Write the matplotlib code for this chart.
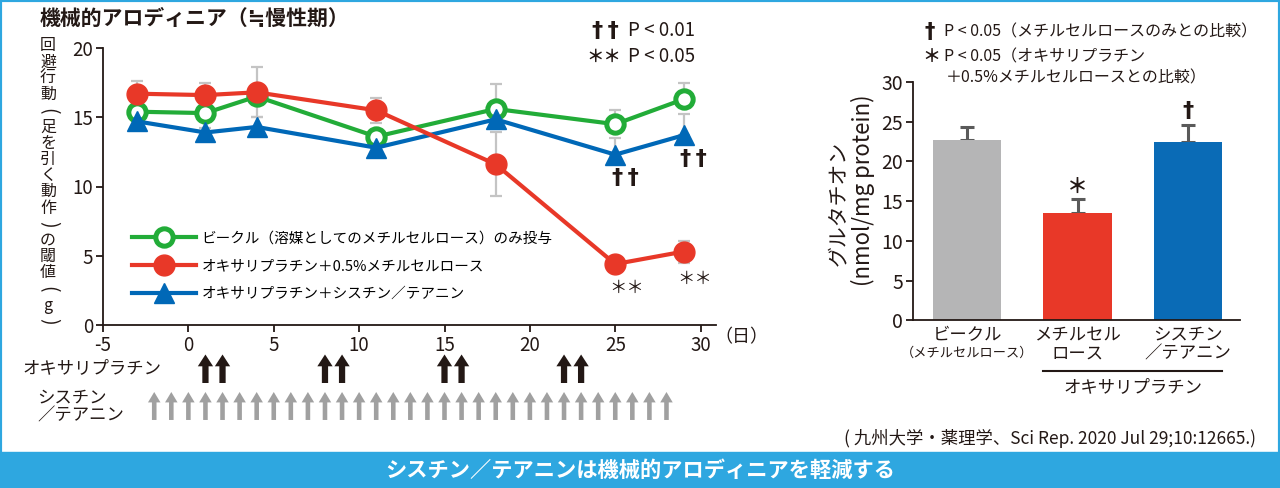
import matplotlib
matplotlib.use("Agg")
import matplotlib.pyplot as plt
from matplotlib.patches import Rectangle

plt.rcParams["font.family"] = ["Noto Sans CJK JP", "DejaVu Sans"]
plt.rcParams["axes.unicode_minus"] = False

# ---- left panel: withdrawal threshold (g) by day ----
DAYS = [-3, 1, 4, 11, 18, 25, 29]
VEHICLE = [15.4, 15.3, 16.5, 13.6, 15.6, 14.5, 16.3]
VEHICLE_ERR = [0.0, 0.0, 0.0, 0.0, 1.8, 1.0, 1.2]
OXA_MC = [16.7, 16.6, 16.8, 15.5, 11.6, 4.4, 5.3]
OXA_MC_ERR = [0.9, 0.9, 1.8, 0.9, 2.3, 0.3, 0.8]
OXA_CT = [14.7, 13.9, 14.3, 12.8, 14.85, 12.3, 13.7]
OXA_CT_ERR = [0.3, 0.3, 0.7, 0.3, 0.3, 1.2, 1.5]
NO_ERR = [0, 0, 0, 0, 0, 0, 0]

LABELS = ["ビークル（溶媒としてのメチルセルロース）のみ投与",
          "オキサリプラチン＋0.5%メチルセルロース",
          "オキサリプラチン＋シスチン／テアニン"]

# dosing schedule (days)
OXA_DAYS = [1, 2, 8, 9, 15, 16, 22, 23]
CT_DAYS = [-2, -1, 0, 1, 2, 3, 4, 5, 6, 7, 8, 9, 10, 11, 12, 13, 14, 15,
           16, 17, 18, 19, 20, 21, 22, 23, 24, 25, 26, 27, 28]

# ---- right panel: glutathione ----
GSH = [22.7, 13.5, 22.5]
GSH_ERR = [1.6, 1.8, 2.1]
GROUP_TOP = ["ビークル", "メチルセル", "シスチン"]
GROUP_BOTTOM = ["（メチルセルロース）", "ロース", "／テアニン"]

GREEN = "#22ac38"
RED = "#e83828"
BLUE = "#0068b7"
ERR_GRAY = "#c4c4c4"
INK = "#231815"
CYAN = "#2ea7e0"

W, H = 1280, 488
DAGGER = dict(family=["DejaVu Sans"], fontweight="bold", color=INK)
TWO_DAGGERS = "†\u2009†"


def fx(px):
    return px / W


def fy(py):
    return 1 - py / H


fig = plt.figure(figsize=(12.8, 4.88), dpi=100)

# ---------------- left line chart ----------------
ax = fig.add_axes([fx(103), fy(325), fx(716) - fx(103), fy(48) - fy(325)])
ax.set_xlim(-5, 30.9)
ax.set_ylim(0, 20)

ax.errorbar(DAYS, VEHICLE, yerr=[NO_ERR, VEHICLE_ERR], fmt="none", ecolor=ERR_GRAY,
            elinewidth=1.6, capsize=4, capthick=1.6, zorder=1)
ax.errorbar(DAYS, OXA_CT, yerr=[NO_ERR, OXA_CT_ERR], fmt="none", ecolor=ERR_GRAY,
            elinewidth=1.6, capsize=4, capthick=1.6, zorder=1)
ax.errorbar(DAYS, OXA_MC, yerr=OXA_MC_ERR, fmt="none", ecolor=ERR_GRAY,
            elinewidth=1.6, capsize=4, capthick=1.6, zorder=1)

l1, = ax.plot(DAYS, VEHICLE, color=GREEN, lw=3, marker="o", ms=12.5, mfc="white",
              mec=GREEN, mew=3.6, zorder=3)
l3, = ax.plot(DAYS, OXA_CT, color=BLUE, lw=3, marker="^", ms=15, mfc=BLUE, mec=BLUE,
              zorder=4)
l2, = ax.plot(DAYS, OXA_MC, color=RED, lw=3, marker="o", ms=15, mfc=RED, mec=RED,
              zorder=5)

ax.legend([l1, l2, l3], LABELS, loc="upper left", bbox_to_anchor=(0.03, 0.375),
          frameon=False, fontsize=10.5, handlelength=4.4, handletextpad=0.4,
          labelspacing=0.95, borderpad=0.2)

ax.set_xticks([-5, 0, 5, 10, 15, 20, 25, 30])
ax.set_yticks([0, 5, 10, 15, 20])
ax.tick_params(labelsize=13.5, length=5, width=1.3, color=INK, labelcolor=INK, pad=2)
for side in ("top", "right"):
    ax.spines[side].set_visible(False)
for side in ("left", "bottom"):
    ax.spines[side].set_color(INK)
    ax.spines[side].set_linewidth(1.3)

# significance marks under the day 25 / 29 points
for i, dy_mc in ((5, -17), (6, -20)):
    ax.annotate(TWO_DAGGERS, (DAYS[i], OXA_CT[i]), xytext=(7, -17),
                textcoords="offset points", ha="center", va="center", fontsize=16,
                **DAGGER)
    ax.annotate("＊＊", (DAYS[i], OXA_MC[i]), xytext=(8, dy_mc),
                textcoords="offset points", ha="center", va="center", fontsize=12.5,
                color=INK)

fig.text(fx(741), fy(337), "（日）", ha="center", va="center", fontsize=13, color=INK)

# vertical y label (brackets turned for vertical writing)
for i, ch in enumerate("回避行動(足を引く動作)の閾値(g)"):
    if ch in "()":
        fig.text(fx(48), fy(46 + i * 16.2), ch, ha="center", va="center", rotation=-90,
                 fontsize=14, color=INK)
    else:
        fig.text(fx(48), fy(46 + i * 16.2), ch, ha="center", va="center",
                 fontsize=11.5, color=INK)

fig.text(fx(40), fy(18), "機械的アロディニア（≒慢性期）", ha="left", va="center",
         fontsize=15, fontweight="bold", color=INK)
fig.text(fx(605), fy(31), TWO_DAGGERS, ha="center", va="center", fontsize=16, **DAGGER)
fig.text(fx(628), fy(31), "P < 0.01", ha="left", va="center", fontsize=13.5, color=INK)
fig.text(fx(604), fy(57), "＊＊", ha="center", va="center", fontsize=12.5,
         fontweight="bold", color=INK)
fig.text(fx(628), fy(57), "P < 0.05", ha="left", va="center", fontsize=13.5, color=INK)

# ---------------- dosing arrows ----------------
axd = fig.add_axes([fx(103), fy(425), fx(716) - fx(103), fy(350) - fy(425)])
axd.set_xlim(ax.get_xlim())
axd.set_ylim(0, 1)
axd.axis("off")
for d in OXA_DAYS:
    axd.annotate("", xy=(d, 0.94), xytext=(d, 0.56),
                 arrowprops=dict(arrowstyle="simple,head_length=0.85,head_width=1.1,tail_width=0.45",
                                 mutation_scale=10, color=INK, lw=0,
                                 shrinkA=0, shrinkB=0))
for d in CT_DAYS:
    axd.annotate("", xy=(d, 0.44), xytext=(d, 0.067),
                 arrowprops=dict(arrowstyle="simple,head_length=0.75,head_width=0.9,tail_width=0.33",
                                 mutation_scale=10, color="#a0a0a0", lw=0,
                                 shrinkA=0, shrinkB=0))
fig.text(fx(23), fy(368), "オキサリプラチン", ha="left", va="center", fontsize=12.5,
         color=INK)
fig.text(fx(37), fy(398), "シスチン", ha="left", va="center", fontsize=12.5, color=INK)
fig.text(fx(37), fy(416), "／テアニン", ha="left", va="center", fontsize=12.5, color=INK)

# ---------------- right bar chart ----------------
axr = fig.add_axes([fx(913), fy(320.3), fx(1240) - fx(913), fy(82) - fy(320.3)])
xpos = range(len(GSH))
axr.bar(xpos, GSH, width=0.62, color=["#b5b5b6", RED, "#0a6bb6"], zorder=2)
axr.errorbar(xpos, GSH, yerr=[[0, 0, 0], GSH_ERR], fmt="none", ecolor="#5a5a5a",
             elinewidth=2.2, capsize=4.7, capthick=2.2, zorder=1)
axr.set_xlim(-0.49, 2.47)
axr.set_ylim(0, 30)
axr.set_yticks([0, 5, 10, 15, 20, 25, 30])
axr.set_xticks([])
axr.tick_params(axis="y", labelsize=14, length=5, width=1.3, color=INK,
                labelcolor=INK, pad=2)
for side in ("top", "right"):
    axr.spines[side].set_visible(False)
for side in ("left", "bottom"):
    axr.spines[side].set_color(INK)
    axr.spines[side].set_linewidth(1.3)

xt = axr.get_xaxis_transform()
for i in xpos:
    axr.text(i, -0.06, GROUP_TOP[i], transform=xt, ha="center", va="center",
             fontsize=12.5, color=INK)
    axr.text(i, -0.14, GROUP_BOTTOM[i], transform=xt, ha="center", va="center",
             fontsize=9.5 if i == 0 else 12.5, color=INK)
axr.plot([1 - 0.31, 2 + 0.31], [-0.212, -0.212], transform=xt, color=INK, lw=1.5,
         clip_on=False)
axr.text(1.5, -0.28, "オキサリプラチン", transform=xt, ha="center", va="center",
         fontsize=12.5, color=INK)

axr.annotate("＊", (1, GSH[1] + GSH_ERR[1]), xytext=(0, 9), textcoords="offset points",
             ha="center", va="center", fontsize=15, fontweight="bold", color=INK)
axr.annotate("†", (2, GSH[2] + GSH_ERR[2]), xytext=(0, 10), textcoords="offset points",
             ha="center", va="center", fontsize=16, **DAGGER)

fig.text(fx(838), fy(203), "グルタチオン", rotation=90, ha="center", va="center",
         fontsize=15, color=INK)
fig.text(fx(863), fy(190), "(nmol/mg protein)", rotation=90, ha="center", va="center",
         fontsize=16, color=INK)

fig.text(fx(930), fy(32), "†", ha="center", va="center", fontsize=15, **DAGGER)
fig.text(fx(944), fy(32), "P < 0.05（メチルセルロースのみとの比較）", ha="left",
         va="center", fontsize=11.5, color=INK)
fig.text(fx(931), fy(57), "＊", ha="center", va="center", fontsize=13,
         fontweight="bold", color=INK)
fig.text(fx(944), fy(57), "P < 0.05（オキサリプラチン", ha="left", va="center",
         fontsize=11.5, color=INK)
fig.text(fx(946), fy(78), "＋0.5%メチルセルロースとの比較）", ha="left", va="center",
         fontsize=11.5, color=INK)

fig.text(fx(1256), fy(438), "( 九州大学・薬理学、Sci Rep. 2020 Jul 29;10:12665.)",
         ha="right", va="center", fontsize=12.5, color=INK)

# ---------------- frame and banner ----------------
fig.patches.append(Rectangle((0, 0), 1, fy(452), transform=fig.transFigure,
                             color=CYAN, zorder=0))
fig.patches.append(Rectangle((0, 0), 1, 1, transform=fig.transFigure, fill=False,
                             edgecolor=CYAN, lw=3, zorder=0))
fig.text(0.5, fy(470), "シスチン／テアニンは機械的アロディニアを軽減する", ha="center",
         va="center", fontsize=15.3, fontweight="bold", color="white")

fig.savefig("out.png", dpi=100)
